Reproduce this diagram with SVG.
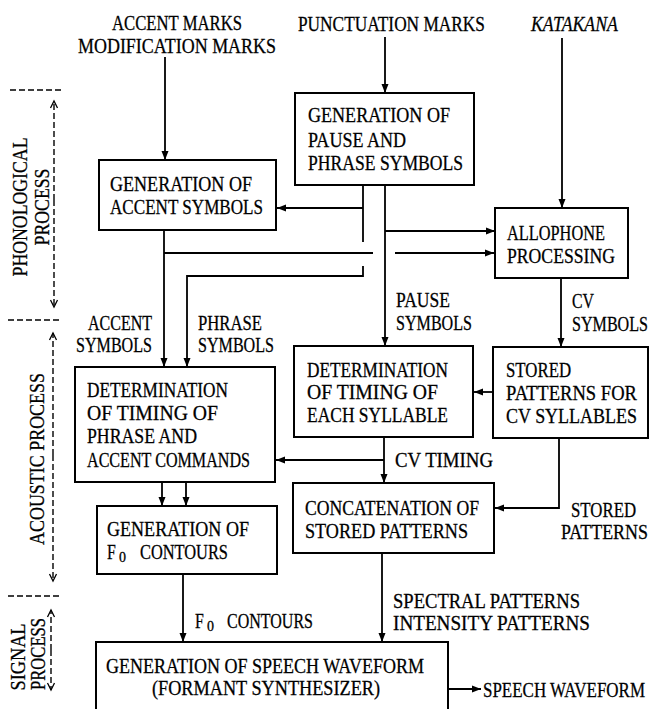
<svg xmlns="http://www.w3.org/2000/svg" width="651" height="709" viewBox="0 0 651 709">
<style>
text{font-family:"Liberation Serif","Times New Roman",serif;font-size:22px;fill:#000;stroke:#000;stroke-width:0.3}
.sub{font-size:14px}
.box{fill:#fff;stroke:#000;stroke-width:2}
.ln{fill:none;stroke:#000;stroke-width:1.8}
.dash{fill:none;stroke:#000;stroke-width:1.4;stroke-dasharray:6 3}
.it{font-style:italic}
</style>
<defs>
<marker id="ah" markerUnits="userSpaceOnUse" markerWidth="10" markerHeight="8" refX="9" refY="4" orient="auto">
<path d="M0,0.5 L9,4 L0,7.5 Z" fill="#000"/>
</marker>
<marker id="oa" markerUnits="userSpaceOnUse" markerWidth="10" markerHeight="10" refX="8" refY="5" orient="auto">
<path d="M1,1.5 L8,5 L1,8.5" fill="none" stroke="#000" stroke-width="1.3"/>
</marker>
</defs>
<rect width="651" height="709" fill="#fff"/>

<g id="inputs">
<text transform="translate(112,30) scale(0.72,1)" textLength="180.6" lengthAdjust="spacingAndGlyphs">ACCENT MARKS</text>
<text transform="translate(78,53) scale(0.72,1)" textLength="275" lengthAdjust="spacingAndGlyphs">MODIFICATION MARKS</text>
<text transform="translate(298,31) scale(0.72,1)" textLength="259.7" lengthAdjust="spacingAndGlyphs">PUNCTUATION MARKS</text>
<text class="it" transform="translate(531,31) scale(0.72,1)" textLength="120.8" lengthAdjust="spacingAndGlyphs">KATAKANA</text>
</g>

<g id="process-scale">
<path class="dash" d="M10,90 H63 M8,320 H62 M8,596 H60"/>
<path class="dash" d="M54,200 V101" marker-end="url(#oa)"/>
<path class="dash" d="M54,200 V307" marker-end="url(#oa)"/>
<path class="dash" d="M53,455 V333" marker-end="url(#oa)"/>
<path class="dash" d="M53,455 V581" marker-end="url(#oa)"/>
<path class="dash" d="M51,650 V610" marker-end="url(#oa)"/>
<path class="dash" d="M51,650 V690" marker-end="url(#oa)"/>
<text transform="translate(27,207) rotate(-90) scale(0.72,1)" text-anchor="middle" textLength="193" lengthAdjust="spacingAndGlyphs">PHONOLOGICAL</text>
<text transform="translate(49,207) rotate(-90) scale(0.72,1)" text-anchor="middle" textLength="106.9" lengthAdjust="spacingAndGlyphs">PROCESS</text>
<text transform="translate(44,459) rotate(-90) scale(0.72,1)" text-anchor="middle" textLength="238.9" lengthAdjust="spacingAndGlyphs">ACOUSTIC PROCESS</text>
<text transform="translate(25,657) rotate(-90) scale(0.72,1)" text-anchor="middle" textLength="93" lengthAdjust="spacingAndGlyphs">SIGNAL</text>
<text transform="translate(45,654) rotate(-90) scale(0.72,1)" text-anchor="middle" textLength="100" lengthAdjust="spacingAndGlyphs">PROCESS</text>
</g>

<g id="connectors">
<path class="ln" d="M165,57 V160" marker-end="url(#ah)"/>
<path class="ln" d="M385,37 V93" marker-end="url(#ah)"/>
<path class="ln" d="M562,38 V208" marker-end="url(#ah)"/>
<path class="ln" d="M363,185 V242 M363,266 V276 H187 V367" marker-end="url(#ah)"/>
<path class="ln" d="M363,208 H277" marker-end="url(#ah)"/>
<path class="ln" d="M385,185 V346" marker-end="url(#ah)"/>
<path class="ln" d="M385,231 H495" marker-end="url(#ah)"/>
<path class="ln" d="M164,230 V367" marker-end="url(#ah)"/>
<path class="ln" d="M164,253 H373 M395,253 H494" marker-end="url(#ah)"/>
<path class="ln" d="M561,278 V347" marker-end="url(#ah)"/>
<path class="ln" d="M493,392 H474" marker-end="url(#ah)"/>
<path class="ln" d="M384,437 V483" marker-end="url(#ah)"/>
<path class="ln" d="M384,460 H276" marker-end="url(#ah)"/>
<path class="ln" d="M559,438 V508 H495" marker-end="url(#ah)"/>
<path class="ln" d="M162,482 V506" marker-end="url(#ah)"/>
<path class="ln" d="M186,482 V506" marker-end="url(#ah)"/>
<path class="ln" d="M183,574 V642" marker-end="url(#ah)"/>
<path class="ln" d="M382,553 V642" marker-end="url(#ah)"/>
<path class="ln" d="M448,689 H481" marker-end="url(#ah)"/>
</g>

<g id="labels">
<text transform="translate(88,330) scale(0.72,1)" textLength="88.9" lengthAdjust="spacingAndGlyphs">ACCENT</text>
<text transform="translate(76,352) scale(0.72,1)" textLength="105.6" lengthAdjust="spacingAndGlyphs">SYMBOLS</text>
<text transform="translate(198,330) scale(0.72,1)" textLength="88.9" lengthAdjust="spacingAndGlyphs">PHRASE</text>
<text transform="translate(198,352) scale(0.72,1)" textLength="105.6" lengthAdjust="spacingAndGlyphs">SYMBOLS</text>
<text transform="translate(396,307) scale(0.72,1)" textLength="75" lengthAdjust="spacingAndGlyphs">PAUSE</text>
<text transform="translate(396,330) scale(0.72,1)" textLength="105.6" lengthAdjust="spacingAndGlyphs">SYMBOLS</text>
<text transform="translate(572,308) scale(0.72,1)" textLength="30.6" lengthAdjust="spacingAndGlyphs">CV</text>
<text transform="translate(572,331) scale(0.72,1)" textLength="105.6" lengthAdjust="spacingAndGlyphs">SYMBOLS</text>
<text transform="translate(395,467) scale(0.72,1)" textLength="136.1" lengthAdjust="spacingAndGlyphs">CV TIMING</text>
<text transform="translate(571,517) scale(0.72,1)" textLength="90.3" lengthAdjust="spacingAndGlyphs">STORED</text>
<text transform="translate(561,539) scale(0.72,1)" textLength="120.8" lengthAdjust="spacingAndGlyphs">PATTERNS</text>
<text transform="translate(195,628) scale(0.72,1)">F</text>
<text class="sub" x="207" y="631">0</text>
<text transform="translate(227,628) scale(0.72,1)" textLength="119.4" lengthAdjust="spacingAndGlyphs">CONTOURS</text>
<text transform="translate(393,608) scale(0.72,1)" textLength="259.7" lengthAdjust="spacingAndGlyphs">SPECTRAL PATTERNS</text>
<text transform="translate(393,630) scale(0.72,1)" textLength="273.6" lengthAdjust="spacingAndGlyphs">INTENSITY PATTERNS</text>
<text transform="translate(483,697) scale(0.72,1)" textLength="225" lengthAdjust="spacingAndGlyphs">SPEECH WAVEFORM</text>
</g>

<g id="pause-phrase">
<rect class="box" x="295" y="93" width="179" height="92"/>
<text transform="translate(308,122) scale(0.72,1)" textLength="197.2" lengthAdjust="spacingAndGlyphs">GENERATION OF</text>
<text transform="translate(308,147) scale(0.72,1)" textLength="136.1" lengthAdjust="spacingAndGlyphs">PAUSE AND</text>
<text transform="translate(308,170) scale(0.72,1)" textLength="215.3" lengthAdjust="spacingAndGlyphs">PHRASE SYMBOLS</text>
</g>

<g id="accent-symbols">
<rect class="box" x="99" y="160" width="177" height="70"/>
<text transform="translate(110,191) scale(0.72,1)" textLength="197.2" lengthAdjust="spacingAndGlyphs">GENERATION OF</text>
<text transform="translate(110,214) scale(0.72,1)" textLength="212.5" lengthAdjust="spacingAndGlyphs">ACCENT SYMBOLS</text>
</g>

<g id="allophone">
<rect class="box" x="495" y="208" width="133" height="70"/>
<text transform="translate(507,240) scale(0.72,1)" textLength="136.1" lengthAdjust="spacingAndGlyphs">ALLOPHONE</text>
<text transform="translate(507,263) scale(0.72,1)" textLength="150" lengthAdjust="spacingAndGlyphs">PROCESSING</text>
</g>

<g id="command-timing">
<rect class="box" x="75" y="367" width="200" height="115"/>
<text transform="translate(87,397) scale(0.72,1)" textLength="195.8" lengthAdjust="spacingAndGlyphs">DETERMINATION</text>
<text transform="translate(87,420) scale(0.72,1)" textLength="181.9" lengthAdjust="spacingAndGlyphs">OF TIMING OF</text>
<text transform="translate(87,443) scale(0.72,1)" textLength="152.8" lengthAdjust="spacingAndGlyphs">PHRASE AND</text>
<text transform="translate(87,467) scale(0.72,1)" textLength="226.4" lengthAdjust="spacingAndGlyphs">ACCENT COMMANDS</text>
</g>

<g id="syllable-timing">
<rect class="box" x="294" y="346" width="179" height="91"/>
<text transform="translate(307,377) scale(0.72,1)" textLength="195.8" lengthAdjust="spacingAndGlyphs">DETERMINATION</text>
<text transform="translate(307,399) scale(0.72,1)" textLength="181.9" lengthAdjust="spacingAndGlyphs">OF TIMING OF</text>
<text transform="translate(307,422) scale(0.72,1)" textLength="195.8" lengthAdjust="spacingAndGlyphs">EACH SYLLABLE</text>
</g>

<g id="stored-patterns">
<rect class="box" x="493" y="347" width="155" height="91"/>
<text transform="translate(506,377) scale(0.72,1)" textLength="90.3" lengthAdjust="spacingAndGlyphs">STORED</text>
<text transform="translate(506,400) scale(0.72,1)" textLength="181.9" lengthAdjust="spacingAndGlyphs">PATTERNS FOR</text>
<text transform="translate(506,423) scale(0.72,1)" textLength="181.9" lengthAdjust="spacingAndGlyphs">CV SYLLABLES</text>
</g>

<g id="concatenation">
<rect class="box" x="293" y="483" width="201" height="70"/>
<text transform="translate(305,515) scale(0.72,1)" textLength="241.7" lengthAdjust="spacingAndGlyphs">CONCATENATION OF</text>
<text transform="translate(305,538) scale(0.72,1)" textLength="226.4" lengthAdjust="spacingAndGlyphs">STORED PATTERNS</text>
</g>

<g id="f0-contours">
<rect class="box" x="97" y="506" width="180" height="68"/>
<text transform="translate(107,536) scale(0.72,1)" textLength="197.2" lengthAdjust="spacingAndGlyphs">GENERATION OF</text>
<text transform="translate(107,559) scale(0.72,1)">F</text>
<text class="sub" x="119" y="562">0</text>
<text transform="translate(140,559) scale(0.72,1)" textLength="122.2" lengthAdjust="spacingAndGlyphs">CONTOURS</text>
</g>

<g id="speech-waveform">
<rect class="box" x="96" y="642" width="352" height="80"/>
<text transform="translate(106,673) scale(0.72,1)" textLength="441.7" lengthAdjust="spacingAndGlyphs">GENERATION OF SPEECH WAVEFORM</text>
<text transform="translate(152,695) scale(0.72,1)" textLength="316.7" lengthAdjust="spacingAndGlyphs">(FORMANT SYNTHESIZER)</text>
</g>
</svg>
